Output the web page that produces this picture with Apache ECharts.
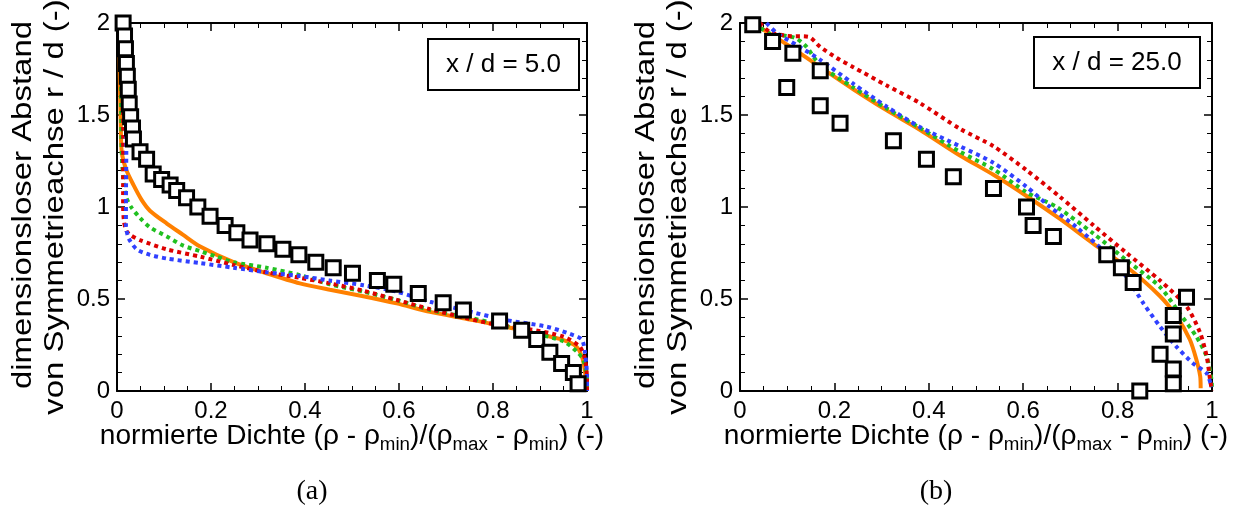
<!DOCTYPE html>
<html>
<head>
<meta charset="utf-8">
<script src="https://cdn.jsdelivr.net/npm/echarts@6/dist/echarts.min.js"></script>
<style>html,body{margin:0;padding:0;background:#fff;}#c{width:1236px;height:509px;}</style>
</head>
<body>
<div id="c"></div>
<script>
// ---- data (panel a: x/d = 5.0) ----
const xTickLabels = ['0','0.2','0.4','0.6','0.8','1'];
const yTickLabels = ['0','0.5','1','1.5','2'];
const panelTitles = ['x / d = 5.0', 'x / d = 25.0'];
const panelCaptions = ['(a)', '(b)'];

const expA = [[0.013,2.0],[0.016,1.93],[0.018,1.86],[0.020,1.78],[0.022,1.71],[0.024,1.64],[0.026,1.56],[0.029,1.49],[0.033,1.43],[0.035,1.37],[0.049,1.30],[0.063,1.26],[0.077,1.18],[0.095,1.15],[0.113,1.12],[0.127,1.09],[0.148,1.05],[0.172,1.00],[0.198,0.95],[0.230,0.90],[0.255,0.86],[0.283,0.82],[0.319,0.80],[0.353,0.77],[0.387,0.74],[0.423,0.70],[0.460,0.67],[0.501,0.64],[0.554,0.60],[0.589,0.58],[0.641,0.53],[0.694,0.48],[0.737,0.44],[0.814,0.38],[0.861,0.33],[0.893,0.28],[0.921,0.21],[0.946,0.15],[0.971,0.10],[0.981,0.04]];
const orangeA = [[0.005,2.0],[0.006,1.7],[0.008,1.45],[0.010,1.3],[0.020,1.2],[0.035,1.12],[0.052,1.04],[0.070,0.98],[0.106,0.91],[0.140,0.85],[0.177,0.785],[0.248,0.70],[0.318,0.64],[0.389,0.585],[0.453,0.55],[0.524,0.515],[0.595,0.476],[0.666,0.43],[0.737,0.395],[0.808,0.36],[0.879,0.32],[0.950,0.277],[0.978,0.24],[0.990,0.18],[0.996,0.10],[1.0,0.0]];
const greenA = [[0.009,2.0],[0.009,1.6],[0.010,1.3],[0.014,1.13],[0.020,1.05],[0.030,1.0],[0.049,0.94],[0.070,0.89],[0.106,0.84],[0.141,0.79],[0.177,0.76],[0.212,0.73],[0.248,0.70],[0.318,0.67],[0.389,0.63],[0.453,0.58],[0.524,0.54],[0.595,0.495],[0.666,0.44],[0.737,0.405],[0.808,0.365],[0.879,0.32],[0.950,0.27],[0.978,0.215],[0.992,0.17],[1.0,0.06],[1.0,0.0]];
const redA = [[0.013,2.0],[0.013,1.5],[0.013,1.0],[0.015,0.92],[0.020,0.87],[0.030,0.845],[0.049,0.82],[0.106,0.77],[0.177,0.73],[0.248,0.685],[0.318,0.645],[0.389,0.615],[0.453,0.585],[0.524,0.545],[0.595,0.495],[0.666,0.445],[0.737,0.40],[0.808,0.36],[0.879,0.335],[0.950,0.295],[0.985,0.24],[0.996,0.17],[1.0,0.06],[1.0,0.0]];
const blueA = [[0.020,2.0],[0.020,1.4],[0.019,1.0],[0.019,0.9],[0.025,0.83],[0.042,0.77],[0.070,0.74],[0.106,0.72],[0.177,0.695],[0.248,0.67],[0.318,0.645],[0.389,0.625],[0.453,0.60],[0.524,0.575],[0.595,0.54],[0.666,0.485],[0.737,0.44],[0.829,0.385],[0.914,0.35],[0.964,0.31],[0.989,0.28],[0.996,0.205],[1.0,0.08],[1.0,0.0]];

// ---- data (panel b: x/d = 25.0) ----
const expB = [[0.027,1.99],[0.069,1.90],[0.112,1.835],[0.099,1.65],[0.170,1.74],[0.170,1.55],[0.212,1.455],[0.325,1.36],[0.395,1.26],[0.452,1.165],[0.537,1.10],[0.607,1.0],[0.621,0.90],[0.664,0.84],[0.777,0.74],[0.808,0.67],[0.833,0.59],[0.946,0.51],[0.918,0.41],[0.918,0.31],[0.890,0.20],[0.918,0.12],[0.918,0.04],[0.847,0.0]];
const orangeB = [[0.027,2.0],[0.071,1.93],[0.113,1.86],[0.170,1.76],[0.240,1.64],[0.311,1.525],[0.381,1.42],[0.466,1.28],[0.537,1.175],[0.607,1.06],[0.678,0.935],[0.749,0.80],[0.819,0.675],[0.890,0.515],[0.925,0.405],[0.953,0.28],[0.967,0.17],[0.975,0.08],[0.976,0.015]];
const greenB = [[0.030,2.0],[0.064,1.94],[0.099,1.93],[0.120,1.915],[0.141,1.87],[0.170,1.77],[0.240,1.65],[0.311,1.535],[0.381,1.43],[0.466,1.30],[0.537,1.205],[0.607,1.08],[0.671,1.0],[0.749,0.855],[0.819,0.71],[0.890,0.565],[0.932,0.42],[0.967,0.295],[0.989,0.185],[0.999,0.06],[1.0,0.0]];
const redB = [[0.042,2.0],[0.064,1.95],[0.099,1.93],[0.145,1.925],[0.170,1.87],[0.205,1.81],[0.240,1.76],[0.311,1.66],[0.381,1.565],[0.466,1.425],[0.537,1.33],[0.607,1.20],[0.678,1.055],[0.749,0.90],[0.819,0.75],[0.890,0.60],[0.946,0.46],[0.975,0.315],[0.989,0.185],[0.996,0.06],[1.0,0.0]];
const blueB = [[0.056,2.0],[0.078,1.945],[0.120,1.88],[0.170,1.80],[0.240,1.67],[0.311,1.545],[0.381,1.435],[0.466,1.33],[0.537,1.24],[0.607,1.11],[0.657,1.0],[0.713,0.89],[0.784,0.73],[0.819,0.62],[0.855,0.475],[0.890,0.35],[0.925,0.24],[0.960,0.15],[0.989,0.095],[0.999,0.02]];

const FONT = 'Liberation Sans';
const C_OR = '#ff8000', C_GR = '#20c020', C_RD = '#dd0000', C_BL = '#3040ff';

function xAx(grid, pos, showLabel) {
  return {
    type:'value', gridIndex:grid, position:pos, min:0, max:1, interval:0.2,
    axisLine:{show:true, onZero:false, lineStyle:{color:'#000', width:2}},
    axisTick:{show:true, inside:true, length:8, lineStyle:{color:'#000', width:1.5}},
    minorTick:{show:true, splitNumber:4, length:5, lineStyle:{color:'#000', width:1}},
    splitLine:{show:false},
    axisLabel:{show:showLabel, color:'#000', fontSize:24, fontFamily:FONT, margin:8,
      formatter:v => xTickLabels[Math.round(v/0.2)]}
  };
}
function yAx(grid, pos, showLabel) {
  return {
    type:'value', gridIndex:grid, position:pos, min:0, max:2, interval:0.5,
    axisLine:{show:true, onZero:false, lineStyle:{color:'#000', width:2}},
    axisTick:{show:true, inside:true, length:8, lineStyle:{color:'#000', width:1.5}},
    minorTick:{show:true, splitNumber:5, length:5, lineStyle:{color:'#000', width:1}},
    splitLine:{show:false},
    axisLabel:{show:showLabel, color:'#000', fontSize:24, fontFamily:FONT, margin:7,
      formatter:v => yTickLabels[Math.round(v/0.5)]}
  };
}
function lineS(data, color, dotted, xi, yi) {
  return {type:'line', data:data, xAxisIndex:xi, yAxisIndex:yi, showSymbol:false, symbol:'none',
    smooth:0.25, clip:true, z:dotted?3:2,
    lineStyle:{color:color, width:4, type: dotted ? [4,4] : 'solid', cap:'butt', opacity:1}};
}
function sqS(data, xi, yi) {
  return {type:'scatter', data:data, xAxisIndex:xi, yAxisIndex:yi, symbol:'rect', symbolSize:14, z:5,
    itemStyle:{color:'#fff', borderColor:'#000', borderWidth:3, opacity:1}};
}

const xTitleRich = '{a|normierte Dichte (ρ - ρ}{s|min}{a|)/(ρ}{s|max}{a| - ρ}{s|min}{a|) (-)}';
const rich = {a:{fontSize:27, fontFamily:FONT, color:'#000', lineHeight:34},
              s:{fontSize:18, fontFamily:FONT, color:'#000', lineHeight:20, verticalAlign:'bottom'}};

function panelGraphics(axisX, gridCenterX, boxX, boxY, boxW, boxH, title, caption) {
  return [
    {type:'text', x:axisX-93, y:205, rotation:Math.PI/2, scaleX:1.22, style:{text:'dimensionsloser Abstand', font:'27px "'+FONT+'"', fill:'#000', align:'center', verticalAlign:'middle'}},
    {type:'text', x:axisX-61, y:207, rotation:Math.PI/2, scaleX:1.22, style:{text:'von Symmetrieachse r / d (-)', font:'27px "'+FONT+'"', fill:'#000', align:'center', verticalAlign:'middle'}},
    {type:'text', x:gridCenterX, y:437, scaleX:1.04, style:{text:xTitleRich, rich:rich, align:'center', verticalAlign:'middle'}},
    {type:'text', x:gridCenterX-40, y:492, style:{text:caption, font:'28px "Liberation Serif"', fill:'#000', align:'center', verticalAlign:'middle'}},
    {type:'rect', shape:{x:boxX, y:boxY, width:boxW, height:boxH}, style:{fill:'#fff', stroke:'#000', lineWidth:2}, z:10},
    {type:'text', x:boxX+boxW/2, y:boxY+boxH/2, z:11, style:{text:title, font:'26px "'+FONT+'"', fill:'#000', align:'center', verticalAlign:'middle'}}
  ];
}

const chart = echarts.init(document.getElementById('c'), null, {renderer:'canvas'});
chart.setOption({
  backgroundColor:'#fff',
  animation:false,
  grid:[{left:117, top:23, width:470, height:368}, {left:740, top:23, width:472, height:368}],
  xAxis:[xAx(0,'bottom',true), xAx(0,'top',false), xAx(1,'bottom',true), xAx(1,'top',false)],
  yAxis:[yAx(0,'left',true), yAx(0,'right',false), yAx(1,'left',true), yAx(1,'right',false)],
  series:[
    lineS(orangeA, C_OR, false, 0, 0),
    lineS(greenA, C_GR, true, 0, 0),
    lineS(redA, C_RD, true, 0, 0),
    lineS(blueA, C_BL, true, 0, 0),
    sqS(expA, 0, 0),
    lineS(orangeB, C_OR, false, 2, 2),
    lineS(greenB, C_GR, true, 2, 2),
    lineS(redB, C_RD, true, 2, 2),
    lineS(blueB, C_BL, true, 2, 2),
    sqS(expB, 2, 2)
  ],
  graphic:[].concat(
    panelGraphics(117, 352, 428, 39, 151, 51, panelTitles[0], panelCaptions[0]),
    panelGraphics(740, 976, 1034, 37, 166, 51, panelTitles[1], panelCaptions[1])
  )
});
</script>
</body>
</html>
